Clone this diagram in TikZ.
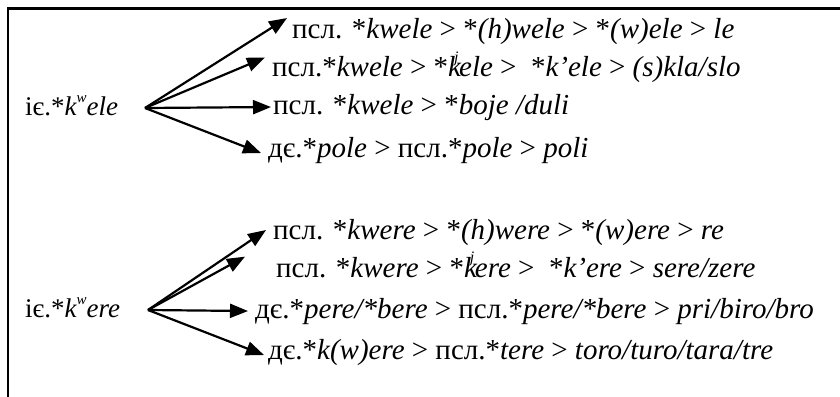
\documentclass[tikz,border=0pt]{standalone}
\usepackage{fontspec}
\setmainfont{Liberation Serif}
\usetikzlibrary{arrows.meta}

% superscript j set over the right shoulder of k
\newcommand{\kj}{k\kern-0.24em\raisebox{0.5em}{\fontsize{16}{16}\selectfont j}\kern0.02em}
\newcommand{\kw}{k\raisebox{0.45em}{\fontsize{15}{15}\selectfont w}}

\begin{document}
\begin{tikzpicture}[x=1pt,y=-1pt,
  every node/.style={font=\fontsize{29}{33}\selectfont, inner sep=0pt},
  line/.style={anchor=base west},
  root/.style={anchor=base west, font=\fontsize{27}{31}\selectfont},
  fan/.style={line width=2.2pt, -{Triangle[length=18pt,width=14pt]}},
  frame/.style={line width=2.6pt}]
\useasboundingbox (0,0) rectangle (840,396);
\draw[frame] (840,8.7) -- (8,8.7) -- (8,397);

% first family
\node[root] (s1) at (25,115) {іє.*\textit{\kw ele}};
\coordinate (o1) at (145,108);
\node[line] (a1) at (292,39) {псл. *\textit{kwele} > *\textit{(h)wele} > *\textit{(w)ele} > \textit{le}};
\node[line] (a2) at (272,77) {псл.*\textit{kwele} > *\textit{\kj ele} >\ \ *\textit{k’ele} > \textit{(s)kla/slo}};
\node[line] (a3) at (273,114) {псл. *\textit{kwele} > *\textit{boje /duli}};
\node[line] (a4) at (268,157) {дє.*\textit{pole} > псл.*\textit{pole} > \textit{poli}};

\draw[fan] (o1) -- ([xshift=-5pt,yshift=14pt]a1.west);
\draw[fan] (o1) -- ([xshift=-7pt,yshift=10pt]a2.west);
\draw[fan] (o1) -- ([xshift=-2pt,yshift=0pt]a3.west);
\draw[fan] (o1) -- ([xshift=-7pt,yshift=-3pt]a4.west);

% second family
\node[root] (s2) at (25,317) {іє.*\textit{\kw ere}};
\coordinate (o2) at (148,310);
\node[line] (b1) at (273,239) {псл. *\textit{kwere} > *\textit{(h)were} > *\textit{(w)ere} > \textit{re}};
\node[line] (b2) at (276,277) {псл. *\textit{kwere} > *\textit{\kj ere} >\ \ *\textit{k’ere} > \textit{sere/zere}};
\node[line] (b3) at (255,318) {дє.*\textit{pere/*bere} > псл.*\textit{pere/*bere} > \textit{pri/biro/bro}};
\node[line] (b4) at (268,359) {дє.*\textit{k(w)ere} > псл.*\textit{tere} > \textit{toro/turo/tara/tre}};

\draw[fan] (o2) -- ([xshift=-7pt,yshift=2pt]b1.west);
\draw[fan] (o2) -- ([xshift=-31pt,yshift=8pt]b2.west);
\draw[fan] (o2) -- ([xshift=-7pt,yshift=0pt]b3.west);
\draw[fan] (o2) -- ([xshift=-4pt,yshift=-3pt]b4.west);
\end{tikzpicture}
\end{document}
